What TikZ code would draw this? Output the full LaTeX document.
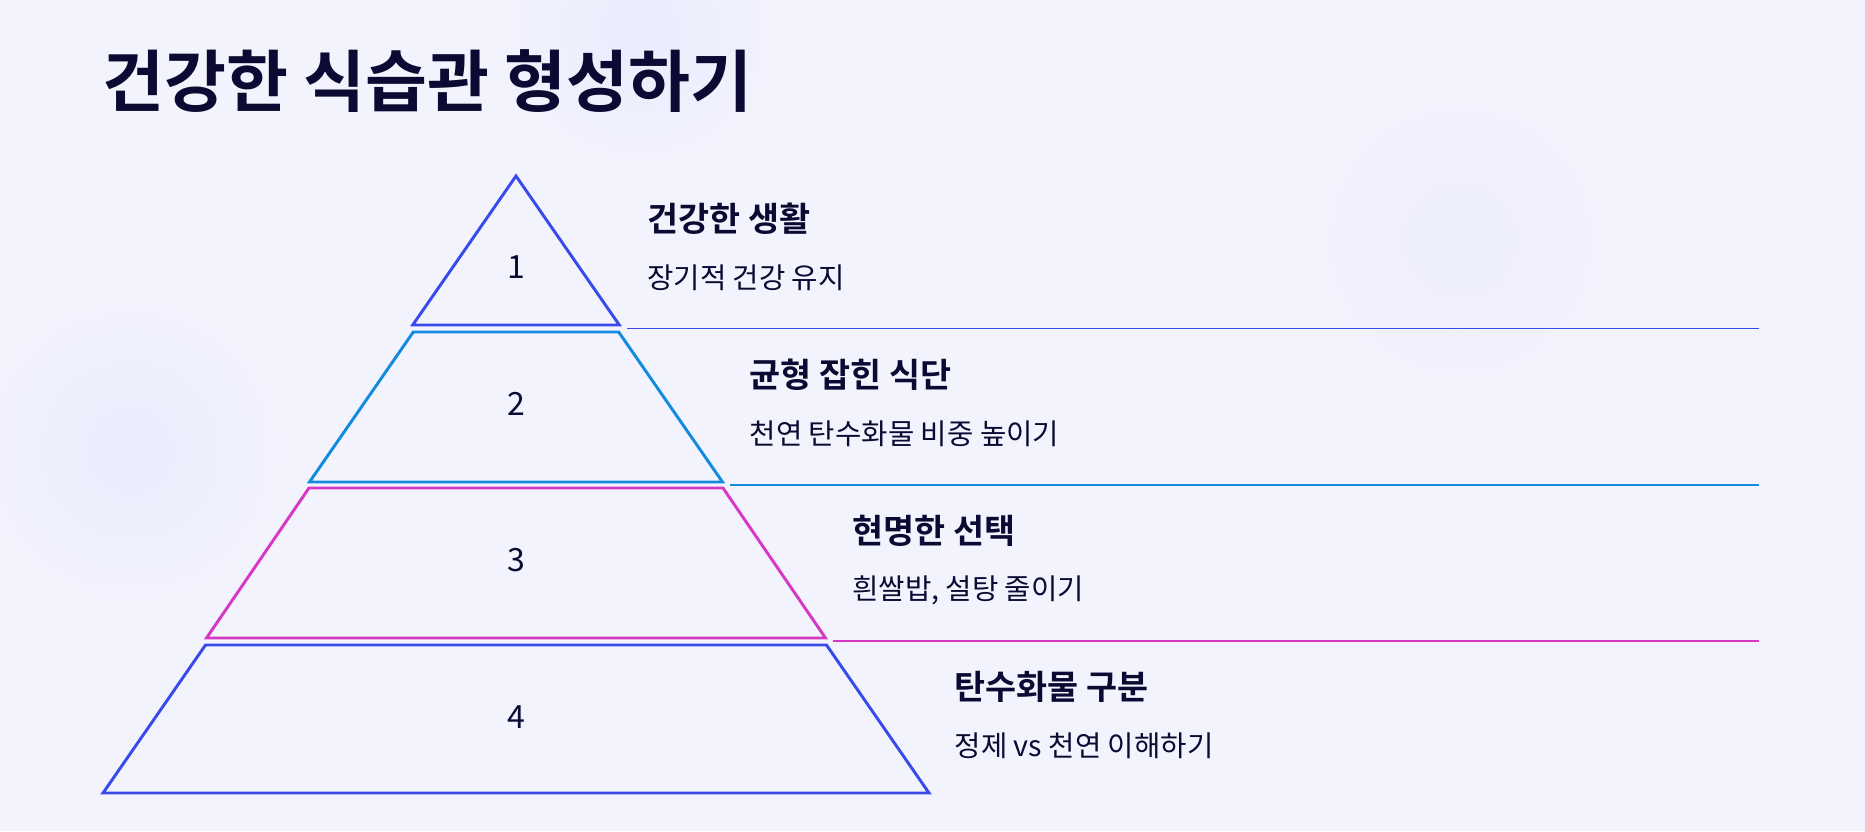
\documentclass[tikz,border=0pt]{standalone}
\usepackage{fontspec}
\setmainfont{Noto Sans CJK KR}[BoldFont={Noto Sans CJK KR Bold}]
\usepackage{tikz}
\usetikzlibrary{positioning,backgrounds}

\definecolor{ink}{RGB}{10,10,50}
\definecolor{paper}{RGB}{243,243,253}
\definecolor{haze}{RGB}{232,236,252}
\definecolor{hazelight}{RGB}{237,238,252}
\definecolor{lvblue}{RGB}{56,74,236}
\definecolor{lvcyan}{RGB}{18,138,222}
\definecolor{lvpink}{RGB}{214,56,196}

\tikzset{
    heading/.style={anchor=west,inner sep=0pt,text=ink,font=\bfseries\fontsize{25.3}{30}\selectfont},
    detail/.style={anchor=west,inner sep=0pt,text=ink,font=\fontsize{21.5}{26}\selectfont},
    levelnum/.style={inner sep=0pt,text=ink,font=\fontsize{24}{28}\selectfont},
    band/.style={line width=2.2pt},
    divider/.style={line width=1.2pt},
    glow/.style={inner color=haze,outer color=paper},
    softglow/.style={inner color=hazelight,outer color=paper}
}

\begin{document}
\begin{tikzpicture}[x=0.75pt,y=-0.75pt]
    % page and soft background
    \fill[paper] (0,0) rectangle (1865,831);
    \useasboundingbox (0,0) rectangle (1865,831);
    \shade[glow] (130,450) circle (170);
    \shade[glow] (640,30) circle (150);
    \shade[softglow] (1460,240) circle (180);

    % title
    \node [anchor=west,inner sep=0pt,text=ink,font=\bfseries\fontsize{50.5}{60}\selectfont] (title) at (102,81) {건강한 식습관 형성하기};

    % pyramid levels
    \draw [band,lvblue] (516,176) -- (619.3,325) -- (412.7,325) -- cycle;
    \draw [band,lvcyan] (413.3,332) -- (618.7,332) -- (722.5,482) -- (309.5,482) -- cycle;
    \draw [band,lvpink] (309.0,488) -- (723.0,488) -- (825.5,638) -- (206.5,638) -- cycle;
    \draw [band,lvblue] (205.5,645) -- (826.5,645) -- (929,793) -- (103,793) -- cycle;

    % numbers
    \path
        (516,267) node [levelnum] (numA) {1}
     ++ (0,137)   node [levelnum] (numB) {2}
     ++ (0,156)   node [levelnum] (numC) {3}
     ++ (0,157)   node [levelnum] (numD) {4}
     ;

    % dividers
    \coordinate (divA) at (627,328.5);
    \coordinate (divB) at (730,485);
    \coordinate (divC) at (833,641);
    \draw [divider,lvblue] (divA) -- (divA -| 1759,0);
    \draw [divider,lvcyan] (divB) -- (divB -| 1759,0);
    \draw [divider,lvpink] (divC) -- (divC -| 1759,0);

    % texts
    \path
        (647,219)  node [heading] (headA) {건강한 생활}
     ++ (0,59)     node [detail]  (textA) {장기적 건강 유지}
     ++ (102.5,97) node [heading] (headB) {균형 잡힌 식단}
     ++ (0,59)     node [detail]  (textB) {천연 탄수화물 비중 높이기}
     ++ (102.5,97) node [heading] (headC) {현명한 선택}
     ++ (0,59)     node [detail]  (textC) {흰쌀밥, 설탕 줄이기}
     ++ (102.5,97) node [heading] (headD) {탄수화물 구분}
     ++ (0,59)     node [detail]  (textD) {정제 vs 천연 이해하기}
     ;
\end{tikzpicture}
\end{document}
